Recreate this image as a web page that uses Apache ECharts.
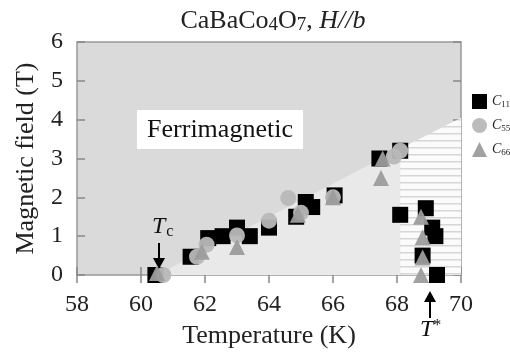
<!DOCTYPE html>
<html>
<head>
<meta charset="utf-8">
<script src="https://cdn.jsdelivr.net/npm/echarts@6/dist/echarts.min.js"></script>
<style>
  html, body { margin: 0; padding: 0; background: #fff; }
  #chart { width: 510px; height: 354px; }
</style>
</head>
<body>
<div id="chart"></div>
<script>
// axis ticks
const xTicks = [58, 60, 62, 64, 66, 68, 70]
const yTicks = [0, 1, 2, 3, 4, 5, 6]

// phase regions [T (K), H (T)]
const afmRegion = [[60.5, 0], [68.1, 3.25], [68.1, 0]]
const pmRegion = [[68.1, 0], [68.1, 3.25], [70, 4.05], [70, 0]]

// measured points [T (K), H (T)]
const c11 = [
  [60.45, 0.0], [61.55, 0.47], [62.1, 0.95], [62.55, 1.0], [63.0, 1.22],
  [63.4, 1.0], [64.0, 1.22], [64.85, 1.5], [65.15, 1.88], [65.35, 1.75],
  [66.05, 2.05], [67.45, 3.0], [68.1, 3.2], [68.1, 1.55], [68.9, 1.72],
  [69.1, 1.22], [69.2, 1.0], [68.8, 0.5], [69.25, 0.0]
]
const c55 = [
  [60.7, 0.0], [61.75, 0.47], [62.05, 0.78], [63.0, 1.02], [64.0, 1.4],
  [64.6, 1.98], [65.0, 1.6], [66.0, 2.0], [67.9, 3.05], [68.1, 3.2]
]
const c66 = [
  [60.5, 0.05], [61.9, 0.6], [63.0, 0.72], [64.9, 1.55], [66.0, 2.0],
  [67.55, 3.0], [67.5, 2.5], [68.75, 1.5], [68.8, 0.97], [68.8, 0.45], [68.75, 0.0]
]

const serif = '"Liberation Serif", "DejaVu Serif", serif'

const stripe = document.createElement('canvas')
stripe.width = 8; stripe.height = 7
const sctx = stripe.getContext('2d')
sctx.fillStyle = '#fbfbfb'; sctx.fillRect(0, 0, 8, 7)
sctx.fillStyle = '#d6d6d6'; sctx.fillRect(0, 0, 8, 1.5)

function region(points, fill) {
  return {
    type: 'custom', silent: true, z: 1, clip: true,
    data: [[0, 0]],
    renderItem: (params, api) => ({
      type: 'polygon',
      shape: { points: points.map(p => api.coord(p)) },
      style: { fill: fill }
    })
  }
}

function labelBox(x, y, w, h, text) {
  return {
    type: 'group', z: 5,
    children: [
      { type: 'rect', shape: { x: x, y: y, width: w, height: h }, style: { fill: '#fff' } },
      { type: 'text', x: x + w / 2, y: y + h / 2 + 1,
        style: { text: text, font: '26px ' + serif, fill: '#111', align: 'center', verticalAlign: 'middle' } }
    ]
  }
}

function arrow(x, y1, y2) {
  const dir = y2 > y1 ? 1 : -1
  return {
    type: 'group', z: 6,
    children: [
      { type: 'line', shape: { x1: x, y1: y1, x2: x, y2: y2 - dir * 8 }, style: { stroke: '#000', lineWidth: 2 } },
      { type: 'polygon', shape: { points: [[x - 6, y2 - dir * 11], [x + 6, y2 - dir * 11], [x, y2]] }, style: { fill: '#000' } }
    ]
  }
}

const chart = echarts.init(document.getElementById('chart'))

const tickStyle = { inside: true, length: 8, lineStyle: { color: '#888', width: 1.5 } }

chart.setOption({
  animation: false,
  title: {
    text: '{n|CaBaCo}{s|4}{n|O}{s|7}{n|, }{i|H//b}',
    left: 268, top: 3, textAlign: 'center',
    textStyle: {
      fontWeight: 'normal',
      rich: {
        n: { fontFamily: serif, fontSize: 26, fontWeight: 'normal', color: '#222' },
        s: { fontFamily: serif, fontSize: 19, fontWeight: 'normal', color: '#222', padding: [8, 0, 0, 0] },
        i: { fontFamily: serif, fontSize: 26, fontWeight: 'normal', fontStyle: 'italic', color: '#222' }
      }
    }
  },
  grid: {
    left: 77, right: 49, top: 42, bottom: 72,
    show: true, backgroundColor: '#dadada', borderColor: '#999', borderWidth: 1.5
  },
  legend: {
    orient: 'vertical', left: 467, top: 89,
    itemWidth: 15, itemHeight: 15, itemGap: 9,
    data: ['C11', 'C55', 'C66'],
    formatter: n => '{i|C}{s|' + n.slice(1) + '}',
    textStyle: {
      rich: {
        i: { fontFamily: serif, fontSize: 14, fontStyle: 'italic', color: '#222' },
        s: { fontFamily: serif, fontSize: 9, color: '#222', padding: [6, 0, 0, 0] }
      }
    }
  },
  xAxis: [{
    type: 'value', min: xTicks[0], max: xTicks[xTicks.length - 1], interval: 2,
    axisLine: { show: false }, axisTick: tickStyle, splitLine: { show: false },
    axisLabel: { fontFamily: serif, fontSize: 24, color: '#222', margin: 18 },
    name: 'Temperature (K)', nameLocation: 'middle', nameGap: 48,
    nameTextStyle: { fontFamily: serif, fontSize: 26, color: '#222' }
  }, {
    type: 'value', position: 'top', min: 58, max: 70, interval: 2,
    axisLine: { show: false }, axisTick: tickStyle, axisLabel: { show: false }, splitLine: { show: false }
  }],
  yAxis: [{
    type: 'value', min: yTicks[0], max: yTicks[yTicks.length - 1], interval: 1,
    axisLine: { show: false }, axisTick: tickStyle, splitLine: { show: false },
    axisLabel: { fontFamily: serif, fontSize: 24, color: '#222', margin: 14 },
    name: 'Magnetic field (T)', nameLocation: 'middle', nameGap: 38,
    nameTextStyle: { fontFamily: serif, fontSize: 26, color: '#222' }
  }, {
    type: 'value', position: 'right', min: 0, max: 6, interval: 1,
    axisLine: { show: false }, axisTick: tickStyle, axisLabel: { show: false }, splitLine: { show: false }
  }],
  graphic: [
    labelBox(137, 110, 166, 39, 'Ferrimagnetic'),
    labelBox(315, 229, 73, 39, 'AFM'),
    labelBox(409, 166, 49, 40, 'PM'),
    arrow(159, 243, 269),
    arrow(430, 318, 291),
    { type: 'text', x: 152, y: 214, z: 6,
      style: { text: '{t|T}{s|c}', rich: {
        t: { font: 'italic 24px ' + serif, fill: '#111' },
        s: { font: '16px ' + serif, fill: '#111', padding: [10, 0, 0, 1] } } } },
    { type: 'text', x: 420, y: 318, z: 6,
      style: { text: '{t|T}{s|*}', rich: {
        t: { font: 'italic 24px ' + serif, fill: '#111' },
        s: { font: '16px ' + serif, fill: '#111', padding: [0, 0, 8, 0] } } } }
  ],
  series: [
    region(afmRegion, '#e9e9e9'),
    region(pmRegion, { image: stripe, repeat: 'repeat' }),
    { name: 'C11', type: 'scatter', z: 3, symbol: 'rect', symbolSize: 16, data: c11,
      itemStyle: { color: '#000', opacity: 1 } },
    { name: 'C55', type: 'scatter', z: 4, symbol: 'circle', symbolSize: 16, data: c55,
      itemStyle: { color: '#b8b8b8', opacity: 0.95 } },
    { name: 'C66', type: 'scatter', z: 4, symbol: 'triangle', symbolSize: 16, data: c66,
      itemStyle: { color: '#9c9c9c', opacity: 0.95 } }
  ]
})
</script>
</body>
</html>
